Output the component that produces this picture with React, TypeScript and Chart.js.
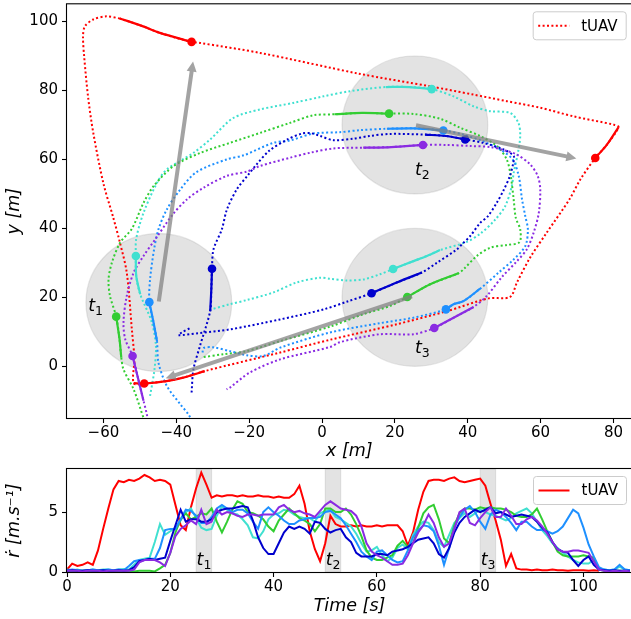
import { useEffect, useRef } from 'react';
import { Chart, registerables } from 'chart.js';

Chart.register(...registerables);

const FONT = '"DejaVu Sans", "Liberation Sans", sans-serif';

// ---------------- Top chart: trajectories (x, y in metres) ----------------
const X_TICKS = [-60, -40, -20, 0, 20, 40, 60, 80];
const Y_TICKS = [0, 20, 40, 60, 80, 100];

const TUAV_PATH = [
  [-55.5, 100.9], [-59.2, 101.5], [-62.8, 100.6], [-65.1, 98.6], [-65.6, 95.7], [-65.3, 90], [-64.2, 78],
  [-62.8, 67.8], [-60, 53], [-57.4, 43.5], [-55.5, 36], [-53.6, 27.2], [-52.2, 10.7], [-51.5, 2], [-51.7, -4.9],
  [-48.8, -5], [-42.7, -4.3], [-38.1, -3.3], [-32.2, -1.4], [-11.5, 4], [2.2, 7.7], [20.5, 12.2], [34.3, 16],
  [45.7, 19.7], [51.6, 20.1], [53.5, 24.3], [57.1, 31.5], [61.7, 38.8], [67.9, 48.4], [70.9, 54.2], [75, 60.4],
  [78.2, 64.3], [81.4, 69.4], [80, 70.1], [69, 72.5], [59.9, 75], [50.7, 76.9], [41.6, 78.8], [29.7, 81.2],
  [10, 84.9], [-17, 90.9], [-33.5, 93.8], [-35.8, 94.1], [-44.5, 96.7], [-49.1, 98.6], [-55.5, 100.9],
];
const TUAV_SOLID = [
  [[-51.7, -4.9], [-48.8, -5], [-42.7, -4.3], [-38.1, -3.3], [-32.2, -1.4]],
  [[75, 60.4], [78.2, 64.3], [81.4, 69.4]],
  [[-35.8, 94.1], [-44.5, 96.7], [-49.1, 98.6], [-55.5, 100.9]],
];
const TUAV_DOTS = [[-48.8, -5], [75, 60.4], [-35.8, 94.1]];

const TURQ_PATH = [
  [-47.2, -8.6], [-46.0, -1], [-45.6, 6], [-46.8, 13], [-49.9, 20.9], [-51.0, 26.2], [-51.1, 32.0], [-51.0, 37],
  [-49.0, 44.5], [-45.3, 53.2], [-42.6, 57.1], [-35.3, 61.9], [-30.7, 65.8], [-24.4, 72.0], [-17.0, 74.5],
  [-7.9, 76.4], [0.4, 78.3], [7.7, 79.8], [17.5, 81.0], [24.0, 81.0], [30.1, 80.4], [36.1, 78.3], [41.6, 75.4],
  [46.2, 74.0], [51.6, 73.5], [53.9, 70.6], [54.4, 66.8], [53.7, 61.5], [52.6, 56.1], [52.1, 52.3], [50.3, 46.5],
  [47.5, 42.5], [43.5, 38.5], [39.5, 36], [32.4, 33.7], [28.8, 32.0], [25.1, 30.5], [19.5, 28.2], [15.9, 26.7],
  [11.4, 25.2], [6.8, 24.9], [2.2, 25.4], [-0.5, 25.7], [-7, 24.3], [-13.4, 21.4], [-20.7, 19.2], [-25.3, 18],
  [-30.8, 16.4],
];
const TURQ_SOLID = [
  [[-49.9, 20.9], [-51.0, 26.2], [-51.1, 32.0]],
  [[17.5, 81.0], [24.0, 81.0], [30.1, 80.4]],
  [[32.4, 33.7], [28.8, 32.0], [25.1, 30.5], [19.5, 28.2]],
];
const TURQ_DOTS = [[-51.1, 32.0], [30.1, 80.4], [19.5, 28.2]];

const GREEN_PATH = [
  [-48, -17], [-49, -14.9], [-51.7, -6.7], [-54.5, -0.9], [-55.1, 2.5], [-55.6, 8], [-56.5, 14.4], [-58.2, 20.4],
  [-58.6, 25.2], [-57.7, 30], [-55.4, 35.9], [-52.2, 39.9], [-49, 47.4], [-46.2, 52.3], [-40.7, 58.1],
  [-33.4, 61.9], [-25.3, 64.8], [-17, 67.7], [-8.8, 70.6], [-2.4, 72.8], [3.4, 73.1], [11, 73.5], [18.4, 73.3],
  [25.1, 73.2], [32.4, 71.8], [37.9, 69.2], [43.4, 66.8], [48, 63.9], [50.7, 60], [51.8, 55.2], [52.6, 48.4],
  [53.2, 43], [54.4, 39.7], [54.2, 36], [50.7, 35.2], [46.2, 34.4], [42.5, 32], [38.8, 28.1], [37.5, 27],
  [29.7, 23.8], [23.4, 20.1], [18.7, 17.5], [11.3, 15.1], [2.2, 11.5], [-11.5, 7.3], [-20.7, 4.4],
  [-27.1, 3.5], [-33, 2.6],
];
const GREEN_SOLID = [
  [[-55.1, 2.5], [-55.6, 8], [-56.5, 14.4]],
  [[3.4, 73.1], [11, 73.5], [18.4, 73.3]],
  [[37.5, 27], [29.7, 23.8], [23.4, 20.1]],
];
const GREEN_DOTS = [[-56.5, 14.4], [18.4, 73.3], [23.4, 20.1]];

const DODGER_PATH = [
  [-35, -17], [-36.7, -13.9], [-38.9, -11], [-42.6, -5.7], [-44.9, 1.1], [-45.3, 7.3], [-46.3, 13],
  [-47.4, 18.6], [-47.2, 25.2], [-46.1, 33.9], [-44.9, 39.7], [-42.6, 45.5], [-38.9, 51.3], [-34.5, 56.3],
  [-26.2, 60], [-21.5, 61.2], [-13.4, 64.8], [-8.8, 65.5], [-2.4, 67.5], [4.9, 67.9], [10.4, 68.5],
  [17.8, 68.9], [25.5, 69], [33.3, 68.4], [38.8, 67.2], [44.3, 65.2], [48.9, 62.9], [52.3, 60], [54, 55.2],
  [54.9, 48.4], [55.8, 43.5], [56.5, 39.7], [55.8, 34.9], [52.6, 31], [48.5, 27.2], [43.4, 22.5],
  [38.8, 18.9], [36.1, 18], [34, 16.5], [25.1, 14.1], [15.9, 12.5], [2.2, 9.8], [-11.5, 5.4], [-16.1, 3],
  [-20.7, 3.2], [-25.3, 4.4], [-29.9, 5.5], [-32.5, 5.3], [-32.8, 4.0],
];
const DODGER_SOLID = [
  [[-45.3, 7.3], [-46.3, 13], [-47.4, 18.6]],
  [[17.8, 68.9], [25.5, 69], [33.3, 68.4]],
  [[43.4, 22.5], [38.8, 18.9], [36.1, 18], [34, 16.5]],
];
const DODGER_DOTS = [[-47.4, 18.6], [33.3, 68.4], [34, 16.5]];

const BLUE_PATH = [
  [-35.8, -7.6], [-35.3, -0.9], [-33.5, 5.9], [-30.7, 16], [-30.4, 22], [-30.2, 28.3], [-29.8, 33.9],
  [-27.5, 39.7], [-26.1, 45.5], [-23.4, 51.3], [-20.3, 55.5], [-18, 58.5], [-14.5, 62.5], [-9.5, 65.8],
  [-5.5, 67.5], [-3, 67.6], [-0.5, 66.8], [3.1, 65.6], [8.6, 66], [13, 66.8], [18.7, 67.4], [28.3, 67.2],
  [34, 66.8], [39.3, 65.8], [44.3, 64.8], [49.8, 62.9], [52.6, 61], [52.5, 59], [51.5, 55], [49.8, 51],
  [48, 47.5], [45.5, 43.5], [43.4, 41.6], [40.7, 37.8], [38.5, 35.5], [37, 33.9], [31.5, 30], [27.4, 27.2],
  [20.5, 24.3], [13.6, 21.2], [7, 18.8], [0.4, 16.5], [-11.5, 13.6], [-25.3, 10.7], [-34, 9.6], [-39.4, 9],
  [-38.5, 9.8], [-36.2, 11.1],
];
const BLUE_SOLID = [
  [[-30.7, 16], [-30.4, 22], [-30.2, 28.3]],
  [[28.3, 67.2], [34, 66.8], [39.3, 65.8]],
  [[27.4, 27.2], [20.5, 24.3], [13.6, 21.2]],
];
const BLUE_DOTS = [[-30.2, 28.3], [39.3, 65.8], [13.6, 21.2]];

const VIOLET_PATH = [
  [-47.5, -17], [-48.2, -13.4], [-49, -10], [-50.5, -3.5], [-52, 3], [-54, 7.8], [-54.5, 12.7], [-53.6, 20.4],
  [-51.7, 27.2], [-49, 32], [-45.8, 36.8], [-41, 44], [-37.1, 48.4], [-32.5, 51.8], [-26.2, 55.2],
  [-20.6, 56.5], [-17, 58.1], [-8.8, 60.5], [-3, 62], [3.1, 63.2], [11.3, 63.4], [19, 63.6], [27.7, 64.2],
  [34.2, 64.2], [40.7, 63.9], [46.2, 63.6], [50.5, 62.5], [53.5, 61.4], [57.1, 58.6], [59.2, 55.2],
  [59.9, 51.3], [59.5, 44.5], [58.1, 38.8], [56.2, 33.9], [53.5, 30.5], [49.3, 25.8], [45.2, 20.4],
  [41.6, 17.2], [37, 14.6], [30.8, 11.1], [25.1, 9.3], [15.9, 9.3], [4.9, 7], [2.2, 5.6], [-11.5, 2],
  [-19.8, -1.8], [-25.3, -6.2], [-26.2, -6.7],
];
const VIOLET_SOLID = [
  [[-49, -10], [-50.5, -3.5], [-52, 3]],
  [[11.3, 63.4], [19, 63.6], [27.7, 64.2]],
  [[41.6, 17.2], [37, 14.6], [30.8, 11.1]],
];
const VIOLET_DOTS = [[-52, 3], [27.7, 64.2], [30.8, 11.1]];

// zones (centres, radius in m), group heading arrows [x0, y0, x1, y1], zone labels
const ZONE_CENTRES = [[-44.8, 18.5], [25.5, 70], [25.5, 20]];
const ZONE_RADIUS = 20;
const HEADING_ARROWS = [
  [-44.8, 18.8, -35.4, 88.4],
  [25.8, 69.9, 69.8, 60.3],
  [24.7, 20.3, -42.9, -3.5],
];
const ZONE_NAMES = ['1', '2', '3'];
const ZONE_LABEL_AT = [[-64.2, 16.0], [25.5, 55.4], [25.5, 3.8]];

// ---------------- Bottom chart: speed vs time ----------------
const TIME = [
  0, 1, 2, 3, 4, 5, 6, 7, 8, 9, 10, 11, 12, 13, 14, 15, 16, 17, 18, 19,
  20, 21, 22, 23, 24, 25, 26, 27, 28, 29, 30, 31, 32, 33, 34, 35, 36, 37, 38, 39,
  40, 41, 42, 43, 44, 45, 46, 47, 48, 49, 50, 51, 52, 53, 54, 55, 56, 57, 58, 59,
  60, 61, 62, 63, 64, 65, 66, 67, 68, 69, 70, 71, 72, 73, 74, 75, 76, 77, 78, 79,
  80, 81, 82, 83, 84, 85, 86, 87, 88, 89, 90, 91, 92, 93, 94, 95, 96, 97, 98, 99,
  100, 101, 102, 103, 104, 105, 106, 107, 108, 109,
];
const V_TUAV = [
  0.2, 0.7, 0.5, 0.6, 0.8, 0.6, 1.8, 3.6, 5.3, 6.9,
  7.6, 7.5, 7.7, 7.6, 7.8, 8.1, 7.9, 7.6, 7.7, 7.6,
  7.3, 5.6, 3.9, 3.5, 5.4, 7.0, 8.3, 7.3, 6.2, 6.4,
  6.3, 6.4, 6.4, 6.3, 6.4, 6.3, 6.3, 6.4, 6.3, 6.3,
  6.2, 6.3, 6.2, 6.2, 6.5, 7.2, 5.7, 3.4, 1.9, 0.9,
  2.4, 4.7, 4.0, 3.8, 3.8, 3.9, 3.8, 3.9, 3.8, 3.8,
  3.9, 3.8, 3.9, 3.9, 3.9, 3.4, 2.2, 3.3, 5.2, 6.7,
  7.6, 7.7, 7.7, 7.6, 7.8, 7.9, 7.6, 7.5, 7.6, 7.7,
  7.8, 7.2, 5.7, 4.3, 2.7, 0.5, 1.5, 0.3, 0.2, 0.2,
  0.15, 0.2, 0.15, 0.15, 0.2, 0.15, 0.15, 0.1, 0.15, 0.15,
  0.15, 0.1, 0.15, 0.1, null, null, null, null, null, null,
];
const V_TURQ = [
  0.2, 0.15, 0.2, 0.1, 0.15, 0.2, 0.15, 0.2, 0.2, 0.15,
  0.2, 0.25, 0.2, 0.6, 1.0, 1.1, 1.2, 2.5, 4.0, 3.1,
  3.4, 3.7, 4.3, 5.0, 5.3, 4.5, 3.7, 3.5, 3.6, 4.7,
  5.5, 5.2, 4.9, 4.8, 4.4, 3.9, 2.9, 2.8, 3.4, 4.4,
  4.8, 4.9, 5.2, 5.1, 4.8, 4.6, 4.5, 4.5, 4.2, 4.9,
  5.1, 5.2, 4.6, 4.4, 4.1, 3.8, 3.2, 2.4, 1.7, 1.8,
  2.1, 1.4, 0.9, 1.2, 2.0, 2.3, 1.9, 3.1, 3.8, 4.2,
  4.1, 3.5, 2.5, 2.1, 3.1, 4.1, 4.5, 4.9, 4.6, 4.9,
  5.2, 5.0, 4.8, 4.7, 4.5, 4.3, 4.5, 4.9, 5.1, 5.3,
  4.9, 4.2, 3.5, 3.0, 2.4, 2.0, 1.6, 1.3, 1.0, 0.8,
  0.7, 0.7, 1.0, 0.2, 0.2, 0.15, 0.2, 0.45, 0.2, 0.15,
];
const V_GREEN = [
  0.1, 0.1, 0.05, 0.1, 0.1, 0.05, 0.1, 0.1, 0.1, 0.05,
  0.1, 0.1, 0.1, 0.05, 0.1, 0.1, 0.1, 0.05, 0.3, 0.6,
  1.6, 3.3, 4.4, 4.9, 4.4, 4.6, 4.9, 4.8, 5.3, 4.2,
  3.3, 4.2, 5.2, 5.9, 5.7, 5.0, 4.9, 4.7, 4.4, 3.8,
  3.4, 4.3, 4.8, 5.3, 4.9, 4.5, 4.3, 4.0, 3.4, 4.0,
  5.3, 5.3, 5.0, 5.0, 5.3, 4.8, 4.0, 3.0, 1.8, 1.2,
  1.0, 1.0, 1.2, 1.4, 2.2, 2.6, 2.1, 2.4, 3.7, 4.9,
  5.4, 5.6, 4.4, 2.8, 2.4, 3.9, 4.9, 5.3, 5.3, 5.2,
  5.4, 5.3, 5.4, 5.3, 5.3, 5.2, 5.0, 4.7, 4.6, 4.6,
  4.8, 5.3, 4.4, 3.4, 2.5, 1.7, 1.4, 1.3, 1.3, 1.3,
  1.4, 1.3, 1.2, 0.2, 0.1, 0.1, 0.1, 0.1, 0.1, 0.1,
];
const V_DODGER = [
  0.15, 0.2, 0.15, 0.1, 0.15, 0.2, 0.15, 0.15, 0.2, 0.15,
  0.2, 0.15, 0.5, 0.9, 1.0, 1.0, 1.1, 1.1, 2.0, 3.5,
  3.6, 3.6, 4.4, 5.2, 5.1, 4.7, 4.1, 4.1, 4.6, 5.3,
  5.6, 5.3, 5.0, 5.2, 5.2, 4.9, 4.2, 3.6, 5.0, 5.4,
  5.0, 4.7, 4.3, 4.0, 4.0, 4.3, 4.4, 4.5, 4.5, 4.6,
  5.0, 5.1, 4.8, 4.5, 3.9, 3.2, 2.5, 1.7, 1.3, 1.0,
  1.7, 1.8, 1.4, 1.0, 0.8, 0.9, 1.8, 2.9, 3.5, 3.9,
  3.8, 3.4, 2.2, 0.6, 2.0, 3.7, 4.6, 5.2, 5.5, 5.0,
  4.2, 3.6, 4.8, 5.2, 5.0, 4.6, 4.1, 3.5, 4.2, 4.2,
  3.8, 3.5, 3.5, 3.4, 3.2, 3.4, 3.8, 4.5, 5.2, 4.9,
  3.7, 2.3, 1.3, 0.4, 0.2, 0.15, 0.2, 0.6, 0.2, 0.15,
];
const V_BLUE = [
  0.1, 0.15, 0.1, 0.1, 0.15, 0.1, 0.1, 0.15, 0.1, 0.1,
  0.15, 0.1, 0.15, 0.4, 0.9, 1.0, 1.1, 1.0, 1.1, 1.2,
  2.6, 3.9, 5.2, 4.2, 4.4, 4.4, 4.2, 4.2, 4.4, 5.0,
  5.2, 5.3, 5.3, 5.4, 5.5, 5.4, 4.3, 2.9, 2.0, 1.5,
  1.5, 2.4, 3.3, 3.8, 3.6, 3.8, 3.6, 3.2, 4.2, 4.1,
  3.6, 3.3, 3.5, 3.6, 2.9, 2.5, 1.6, 1.3, 1.3, 1.3,
  1.5, 1.5, 1.4, 1.7, 1.8, 1.9, 2.1, 2.4, 2.7, 2.8,
  2.9, 2.4, 1.5, 1.2, 2.0, 3.3, 4.1, 4.6, 4.9, 5.2,
  5.0, 5.2, 5.4, 4.9, 5.0, 4.8, 4.6, 4.7, 4.8, 4.7,
  4.6, 4.2, 3.7, 3.3, 2.5, 1.9, 1.7, 1.6, 1.0, 0.5,
  1.0, 1.3, 0.6, 0.2, 0.15, 0.1, 0.15, 0.1, 0.1, 0.1,
];
const V_VIOLET = [
  0.1, 0.1, 0.1, 0.05, 0.1, 0.1, 0.1, 0.05, 0.1, 0.1,
  0.1, 0.1, 0.1, 0.2, 0.8, 1.0, 1.0, 1.0, 0.8, 0.5,
  1.6, 3.0, 3.6, 3.9, 4.3, 4.0, 5.2, 4.0, 4.2, 5.2,
  4.8, 5.0, 4.9, 4.7, 4.6, 4.8, 4.8, 4.7, 4.8, 4.8,
  4.8, 5.4, 5.6, 5.2, 5.0, 5.1, 4.9, 4.8, 4.6, 5.1,
  5.6, 5.9, 5.6, 5.3, 5.2, 5.1, 4.7, 3.8, 2.4, 1.7,
  1.4, 1.2, 0.9, 0.6, 0.6, 0.7, 1.4, 2.4, 3.3, 3.9,
  4.8, 4.1, 2.9, 2.1, 2.4, 3.6, 5.0, 5.3, 4.1, 3.9,
  4.5, 5.0, 5.4, 4.6, 4.6, 5.3, 4.7, 4.0, 4.0, 4.4,
  4.6, 4.3, 3.8, 3.2, 2.5, 1.9, 1.7, 1.7, 1.8, 1.8,
  1.7, 1.6, 0.9, 0.2, 0.1, 0.05, 0.1, 0.05, 0.1, 0.05,
];
const WINDOWS = [[25, 28], [50, 53], [80, 83]];
const WINDOW_LABEL_V = 0.6;
const T_TICKS = [0, 20, 40, 60, 80, 100];
const V_TICKS = [0, 5];

const LEADER_LABEL = 'tUAV';
const C_RED = '#ff0000';
const FOLLOWERS = [
  { name: 'UAV 1', color: '#40e0d0', path: TURQ_PATH, solid: TURQ_SOLID, dots: TURQ_DOTS, speed: V_TURQ },
  { name: 'UAV 2', color: '#32cd32', path: GREEN_PATH, solid: GREEN_SOLID, dots: GREEN_DOTS, speed: V_GREEN },
  { name: 'UAV 3', color: '#1e90ff', path: DODGER_PATH, solid: DODGER_SOLID, dots: DODGER_DOTS, speed: V_DODGER },
  { name: 'UAV 4', color: '#0000cd', path: BLUE_PATH, solid: BLUE_SOLID, dots: BLUE_DOTS, speed: V_BLUE },
  { name: 'UAV 5', color: '#8a2be2', path: VIOLET_PATH, solid: VIOLET_SOLID, dots: VIOLET_DOTS, speed: V_VIOLET },
];

// ---------------- helpers ----------------
const fmt = (v: number) => (v < 0 ? '\u2212' + Math.abs(v) : String(v));
const toPts = (a: number[][]) => a.map(([x, y]) => ({ x, y }));

const zeroPad = (s: any) => { s.paddingTop = 0; s.paddingBottom = 0; s.paddingLeft = 0; s.paddingRight = 0; };

function xAxis(min: number, max: number, ticks: number[], title: string, height: number, padBottom: number) {
  return {
    type: 'linear', position: 'bottom', min, max,
    afterBuildTicks: (s: any) => { s.ticks = ticks.map((v) => ({ value: v })); },
    afterFit: (s: any) => { s.height = height; zeroPad(s); },
    grid: { display: true, drawOnChartArea: false, drawTicks: true, tickLength: 5, tickColor: '#000', tickWidth: 1.1 },
    border: { display: false },
    ticks: { font: { family: FONT, size: 15 }, color: '#000', padding: 1, maxRotation: 0, autoSkip: false, callback: (v: any) => fmt(Number(v)) },
    title: { display: true, text: title, color: '#000', font: { family: FONT, size: 17.5, style: 'italic' }, padding: { top: 0, bottom: padBottom } },
  };
}
function yAxis(min: number, max: number, ticks: number[], title: string, width: number) {
  return {
    type: 'linear', position: 'left', min, max,
    afterBuildTicks: (s: any) => { s.ticks = ticks.map((v) => ({ value: v })); },
    afterFit: (s: any) => { s.width = width; zeroPad(s); },
    grid: { display: true, drawOnChartArea: false, drawTicks: true, tickLength: 5, tickColor: '#000', tickWidth: 1.1 },
    border: { display: false },
    ticks: { font: { family: FONT, size: 15 }, color: '#000', padding: 4, autoSkip: false, callback: (v: any) => fmt(Number(v)) },
    title: { display: true, text: title, color: '#000', font: { family: FONT, size: 17.5, style: 'italic' }, padding: { top: 3.5, bottom: 0 } },
  };
}

function drawFrame(chart: any) {
  const { ctx, chartArea: a } = chart;
  ctx.save();
  ctx.strokeStyle = '#000';
  ctx.lineWidth = 1.1;
  ctx.strokeRect(a.left - 0.5, a.top - 0.5, a.right - a.left + 1, a.bottom - a.top + 1);
  ctx.restore();
}

function drawLegend(chart: any, dotted: boolean) {
  const { ctx, chartArea: a } = chart;
  const w = 93, h = 28;
  const x = a.right - 5.5 - w, y = a.top + 7.5;
  const r = 3;
  ctx.save();
  ctx.beginPath();
  ctx.moveTo(x + r, y);
  ctx.arcTo(x + w, y, x + w, y + h, r);
  ctx.arcTo(x + w, y + h, x, y + h, r);
  ctx.arcTo(x, y + h, x, y, r);
  ctx.arcTo(x, y, x + w, y, r);
  ctx.closePath();
  ctx.fillStyle = 'rgba(255,255,255,0.8)';
  ctx.fill();
  ctx.strokeStyle = '#cccccc';
  ctx.lineWidth = 1;
  ctx.stroke();
  ctx.strokeStyle = C_RED;
  ctx.lineWidth = 2;
  ctx.setLineDash(dotted ? [2, 2.4] : []);
  ctx.beginPath();
  ctx.moveTo(x + 5, y + h / 2);
  ctx.lineTo(x + 36, y + h / 2);
  ctx.stroke();
  ctx.setLineDash([]);
  ctx.fillStyle = '#000';
  ctx.font = `15px ${FONT}`;
  ctx.textBaseline = 'middle';
  ctx.textAlign = 'left';
  ctx.fillText(LEADER_LABEL, x + 48, y + h / 2 + 1);
  ctx.restore();
}

function drawTLabel(ctx: CanvasRenderingContext2D, px: number, py: number, sub: string) {
  ctx.save();
  ctx.fillStyle = '#000';
  ctx.textBaseline = 'alphabetic';
  ctx.textAlign = 'left';
  ctx.font = `italic 17.5px ${FONT}`;
  ctx.fillText('t', px, py);
  const w = ctx.measureText('t').width;
  ctx.font = `12.5px ${FONT}`;
  ctx.fillText(sub, px + w, py + 4);
  ctx.restore();
}

function drawArrow(ctx: CanvasRenderingContext2D, x0: number, y0: number, x1: number, y1: number) {
  const dx = x1 - x0, dy = y1 - y0;
  const L = Math.hypot(dx, dy);
  const ux = dx / L, uy = dy / L;
  const nx = -uy, ny = ux;
  const headL = 10, headW = 5, sw = 2;
  const bx = x1 - ux * headL, by = y1 - uy * headL;
  ctx.beginPath();
  ctx.moveTo(x0 + nx * sw, y0 + ny * sw);
  ctx.lineTo(bx + nx * sw, by + ny * sw);
  ctx.lineTo(bx + nx * headW, by + ny * headW);
  ctx.lineTo(x1, y1);
  ctx.lineTo(bx - nx * headW, by - ny * headW);
  ctx.lineTo(bx - nx * sw, by - ny * sw);
  ctx.lineTo(x0 - nx * sw, y0 - ny * sw);
  ctx.closePath();
  ctx.fill();
}

const topDecor = {
  id: 'topDecor',
  beforeDatasetsDraw(chart: any) {
    const { ctx, scales: { x, y } } = chart;
    ctx.save();
    for (const [cx, cy] of ZONE_CENTRES) {
      const px = x.getPixelForValue(cx), py = y.getPixelForValue(cy);
      const rx = Math.abs(x.getPixelForValue(cx + ZONE_RADIUS) - px);
      const ry = Math.abs(y.getPixelForValue(cy + ZONE_RADIUS) - py);
      ctx.beginPath();
      ctx.ellipse(px, py, rx, ry, 0, 0, Math.PI * 2);
      ctx.fillStyle = 'rgba(128,128,128,0.22)';
      ctx.fill();
      ctx.strokeStyle = 'rgba(128,128,128,0.2)';
      ctx.lineWidth = 1.2;
      ctx.stroke();
    }
    ctx.restore();
  },
  afterDatasetsDraw(chart: any) {
    const { ctx, scales: { x, y } } = chart;
    ctx.save();
    ctx.fillStyle = 'rgba(128,128,128,0.72)';
    for (const [x0, y0, x1, y1] of HEADING_ARROWS) {
      drawArrow(ctx, x.getPixelForValue(x0), y.getPixelForValue(y0), x.getPixelForValue(x1), y.getPixelForValue(y1));
    }
    ctx.restore();
    ZONE_LABEL_AT.forEach(([lx, ly], i) => drawTLabel(ctx, x.getPixelForValue(lx), y.getPixelForValue(ly), ZONE_NAMES[i]));
  },
  afterDraw(chart: any) {
    drawFrame(chart);
    drawLegend(chart, true);
  },
};

const bottomDecor = {
  id: 'bottomDecor',
  beforeDatasetsDraw(chart: any) {
    const { ctx, chartArea: a, scales: { x } } = chart;
    ctx.save();
    for (const [t0, t1] of WINDOWS) {
      const p0 = x.getPixelForValue(t0), p1 = x.getPixelForValue(t1);
      ctx.fillStyle = 'rgba(128,128,128,0.22)';
      ctx.fillRect(p0, a.top, p1 - p0, a.bottom - a.top);
      ctx.strokeStyle = 'rgba(128,128,128,0.2)';
      ctx.lineWidth = 1;
      ctx.strokeRect(p0, a.top, p1 - p0, a.bottom - a.top);
    }
    ctx.restore();
  },
  afterDatasetsDraw(chart: any) {
    const { ctx, scales: { x, y } } = chart;
    WINDOWS.forEach(([t0], i) => drawTLabel(ctx, x.getPixelForValue(t0) + 0.5, y.getPixelForValue(WINDOW_LABEL_V), ZONE_NAMES[i]));
  },
  afterDraw(chart: any) {
    drawFrame(chart);
    drawLegend(chart, false);
  },
};

export default function App() {
  const topRef = useRef<HTMLCanvasElement | null>(null);
  const botRef = useRef<HTMLCanvasElement | null>(null);

  useEffect(() => {
    const dotted = (label: string, color: string, path: number[][], order: number) => ({
      label, data: toPts(path), showLine: true, borderColor: color, backgroundColor: color,
      borderWidth: 2, borderDash: [2, 2.4], pointRadius: 0, pointHoverRadius: 0, tension: 0.3, fill: false, order,
    });
    const solid = (label: string, color: string, seg: number[][], order: number) => ({
      label, data: toPts(seg), showLine: true, borderColor: color, backgroundColor: color,
      borderWidth: 2.2, pointRadius: 0, pointHoverRadius: 0, tension: 0.3, fill: false, order,
    });
    const dots = (label: string, color: string, pts: number[][], order: number) => ({
      label, data: toPts(pts), showLine: false, borderColor: color, backgroundColor: color,
      pointRadius: 4.3, pointBorderWidth: 0, pointHoverRadius: 4.3, order,
    });

    const topSets: any[] = [];
    topSets.push(dotted(LEADER_LABEL, C_RED, TUAV_PATH, 100));
    FOLLOWERS.forEach((f, i) => topSets.push(dotted(f.name, f.color, f.path, 95 - i)));
    TUAV_SOLID.forEach((s) => topSets.push(solid(LEADER_LABEL, C_RED, s, 80)));
    FOLLOWERS.forEach((f, i) => f.solid.forEach((s) => topSets.push(solid(f.name, f.color, s, 75 - i))));
    topSets.push(dots(LEADER_LABEL, C_RED, TUAV_DOTS, 60));
    FOLLOWERS.forEach((f, i) => topSets.push(dots(f.name, f.color, f.dots, 55 - i)));

    const top = new Chart(topRef.current as HTMLCanvasElement, {
      type: 'scatter',
      data: { datasets: topSets },
      options: {
        responsive: false,
        animation: false,
        devicePixelRatio: 1,
        layout: { padding: { top: 4, right: 4, bottom: 0, left: 0 } },
        plugins: { legend: { display: false }, tooltip: { enabled: false } },
        events: [],
        scales: {
          x: xAxis(-70, 85, X_TICKS, 'x [m]', 47, 3.5) as any,
          y: yAxis(-15, 105, Y_TICKS, 'y [m]', 67) as any,
        },
      },
      plugins: [topDecor],
    } as any);

    const line = (label: string, color: string, vals: (number | null)[], order: number) => ({
      label, data: TIME.map((t, i) => ({ x: t, y: vals[i] })), borderColor: color, backgroundColor: color,
      borderWidth: 2, pointRadius: 0, pointHoverRadius: 0, tension: 0, fill: false, order,
    });
    const botSets: any[] = [line(LEADER_LABEL, C_RED, V_TUAV, 10)];
    FOLLOWERS.forEach((f, i) => botSets.push(line(f.name, f.color, f.speed, 6 - i)));

    const bot = new Chart(botRef.current as HTMLCanvasElement, {
      type: 'line',
      data: { datasets: botSets },
      options: {
        responsive: false,
        animation: false,
        devicePixelRatio: 1,
        layout: { padding: { top: 4, right: 4, bottom: 0, left: 0 } },
        plugins: { legend: { display: false }, tooltip: { enabled: false } },
        events: [],
        scales: {
          x: xAxis(0, 109.4, T_TICKS, 'Time [s]', 47, 2.5) as any,
          y: yAxis(0, 8.6, V_TICKS, '\u1E59 [m.s\u207B\u00B9]', 67) as any,
        },
      },
      plugins: [bottomDecor],
    } as any);

    return () => {
      top.destroy();
      bot.destroy();
    };
  }, []);

  return (
    <div style={{ position: 'absolute', left: 0, top: 0, width: 631, height: 619, overflow: 'hidden', background: '#fff' }}>
      <canvas ref={topRef} width={636} height={465} style={{ display: 'block', width: 636, height: 465 }} />
      <canvas ref={botRef} width={636} height={154} style={{ display: 'block', width: 636, height: 154 }} />
    </div>
  );
}
